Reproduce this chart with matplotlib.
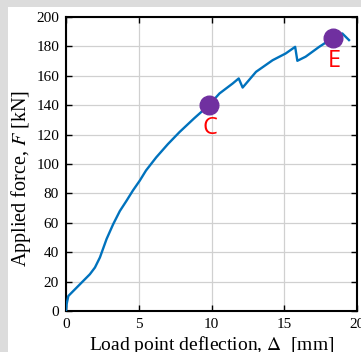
import matplotlib
matplotlib.use("Agg")
import matplotlib.pyplot as plt
from matplotlib.patches import Rectangle

plt.rcParams["mathtext.fontset"] = "stix"

# Data
deflection = [0.0, 0.05, 0.16, 0.39, 0.96, 1.64, 1.99, 2.33, 2.79, 3.24, 3.7, 4.16, 4.6,
              5.07, 5.5, 6.2, 7.0, 7.8, 8.8, 9.82, 10.55, 11.46, 11.87, 12.14, 13.06,
              14.2, 15.1, 15.75, 15.9, 16.47, 17.4, 18.38, 18.99, 19.45]
force = [0.0, 5.0, 10.2, 12.5, 18.2, 25.0, 29.6, 36.4, 49.0, 59.0, 68.0, 75.0, 82.0,
         88.7, 95.6, 104.5, 113.5, 121.7, 131.0, 140.0, 148.0, 154.8, 158.2, 152.0, 162.7,
         170.6, 175.2, 179.7, 170.2, 173.0, 179.7, 186.0, 188.8, 184.3]

points_x = [9.82, 18.38]
points_y = [140.0, 186.0]
point_labels = ["C", "E"]

xticks = [0, 5, 10, 15, 20]
yticks = list(range(0, 201, 20))

W, H = 361, 352
fig = plt.figure(figsize=(W / 100, H / 100), dpi=100)
fig.patch.set_facecolor("#dcdcdc")
fig.add_artist(Rectangle((8 / W, 0), 1 - 8 / W, 1 - 7 / H, transform=fig.transFigure,
                         facecolor="white", edgecolor="none", zorder=0))

ax = fig.add_axes([66 / W, 1 - 311 / H, (357 - 66) / W, (311 - 17) / H])
ax.set_facecolor("white")
ax.plot(deflection, force, color="#0072BD", lw=1.7, zorder=3)
ax.scatter(points_x, points_y, s=180, color="#7030A0", zorder=4)
for px, py, lab in zip(points_x, points_y, point_labels):
    ax.text(px + 0.05, py - 7.5, lab, color="red", fontsize=17, family="Open Sans",
            ha="center", va="top", zorder=5)

ax.set_xlim(0, 20)
ax.set_ylim(0, 200)
ax.set_xticks(xticks)
ax.set_yticks(yticks)
ax.grid(True, color="#d0d0d0", lw=0.9)
ax.set_axisbelow(True)
ax.tick_params(direction="in", top=True, right=True, length=4, width=1,
               labelsize=11, pad=5)
for lab in ax.get_xticklabels() + ax.get_yticklabels():
    lab.set_family("Liberation Serif")
for s in ax.spines.values():
    s.set_linewidth(1.5)

ax.set_xlabel(r"Load point deflection, $\Delta$  [mm]", family="Liberation Serif",
              fontsize=14, labelpad=2)
ax.set_ylabel(r"Applied force, $F$ [kN]", family="Liberation Serif", fontsize=14.5)
ax.yaxis.set_label_coords(-0.115, 0.45)

fig.savefig("out.png", dpi=100, facecolor=fig.get_facecolor())
